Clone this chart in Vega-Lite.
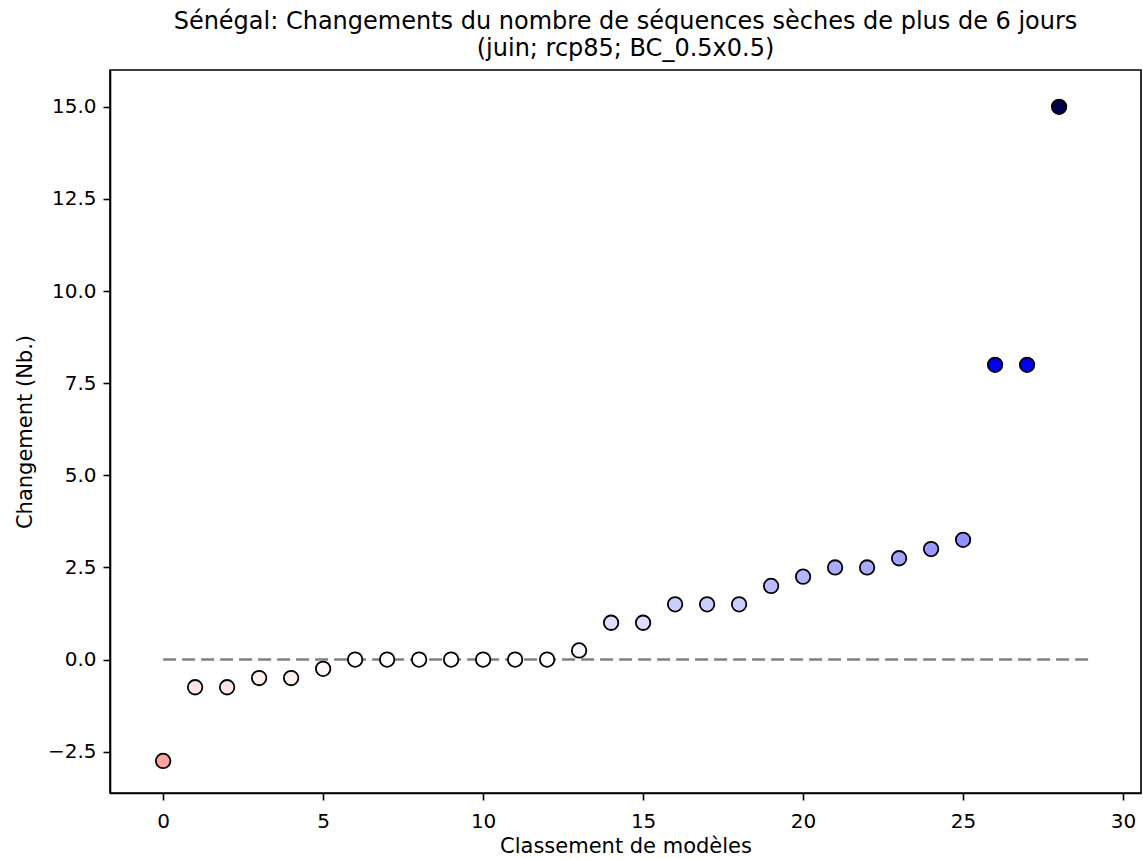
{
  "$schema": "https://vega.github.io/schema/vega-lite/v6.json",
  "width": 1031,
  "height": 723,
  "autosize": {"type": "none"},
  "padding": {"left": 110, "top": 70, "right": 2, "bottom": 66},
  "background": "white",
  "config": {
    "font": "DejaVu Sans",
    "view": {"stroke": "black", "strokeWidth": 1.6},
    "axis": {
      "grid": false,
      "domainColor": "black",
      "domainWidth": 1.6,
      "tickColor": "black",
      "tickWidth": 1.6,
      "tickSize": 7,
      "labelFontSize": 20,
      "labelColor": "black",
      "titleFontSize": 21,
      "titleFontWeight": "normal",
      "titleColor": "black",
      "labelPadding": 7
    }
  },
  "title": {
    "text": ["Sénégal: Changements du nombre de séquences sèches de plus de 6 jours", "(juin; rcp85; BC_0.5x0.5)"],
    "fontSize": 24,
    "fontWeight": "normal",
    "color": "black",
    "anchor": "middle",
    "offset": 9,
    "lineHeight": 27
  },
  "datasets": {
    "pts": [
      {"rang": 0, "val": -2.75},
      {"rang": 1, "val": -0.75},
      {"rang": 2, "val": -0.75},
      {"rang": 3, "val": -0.5},
      {"rang": 4, "val": -0.5},
      {"rang": 5, "val": -0.25},
      {"rang": 6, "val": 0},
      {"rang": 7, "val": 0},
      {"rang": 8, "val": 0},
      {"rang": 9, "val": 0},
      {"rang": 10, "val": 0},
      {"rang": 11, "val": 0},
      {"rang": 12, "val": 0},
      {"rang": 13, "val": 0.25},
      {"rang": 14, "val": 1},
      {"rang": 15, "val": 1},
      {"rang": 16, "val": 1.5},
      {"rang": 17, "val": 1.5},
      {"rang": 18, "val": 1.5},
      {"rang": 19, "val": 2},
      {"rang": 20, "val": 2.25},
      {"rang": 21, "val": 2.5},
      {"rang": 22, "val": 2.5},
      {"rang": 23, "val": 2.75},
      {"rang": 24, "val": 3},
      {"rang": 25, "val": 3.25},
      {"rang": 26, "val": 8},
      {"rang": 27, "val": 8},
      {"rang": 28, "val": 15}
    ],
    "zero": [{"x1": 0, "x2": 29, "y": 0}]
  },
  "layer": [
    {
      "data": {"name": "zero"},
      "mark": {"type": "rule", "color": "#808080", "strokeWidth": 2.5, "strokeDash": [13, 6]},
      "encoding": {
        "x": {"field": "x1", "type": "quantitative", "scale": {"domain": [-1.66, 30.56], "nice": false, "zero": false}},
        "x2": {"field": "x2"},
        "y": {"field": "y", "type": "quantitative", "scale": {"domain": [-3.62, 16.0], "nice": false, "zero": false}}
      }
    },
    {
      "data": {"name": "pts"},
      "mark": {"type": "circle", "size": 210, "stroke": "black", "strokeWidth": 1.8, "opacity": 1},
      "encoding": {
        "x": {
          "field": "rang", "type": "quantitative",
          "scale": {"domain": [-1.66, 30.56], "nice": false, "zero": false},
          "axis": {"values": [0, 5, 10, 15, 20, 25, 30], "title": "Classement de modèles", "titlePadding": 4, "labelPadding": 11}
        },
        "y": {
          "field": "val", "type": "quantitative",
          "scale": {"domain": [-3.62, 16.0], "nice": false, "zero": false},
          "axis": {"values": [-2.5, 0, 2.5, 5, 7.5, 10, 12.5, 15], "format": ".1f", "title": "Changement (Nb.)", "titlePadding": 12}
        },
        "fill": {
          "field": "val", "type": "quantitative", "legend": null,
          "scale": {"domain": [-15, -7.5, 0, 7.5, 15], "range": ["#800000", "#ff0000", "#ffffff", "#0000ff", "#00004d"], "interpolate": "rgb"}
        }
      }
    }
  ]
}
